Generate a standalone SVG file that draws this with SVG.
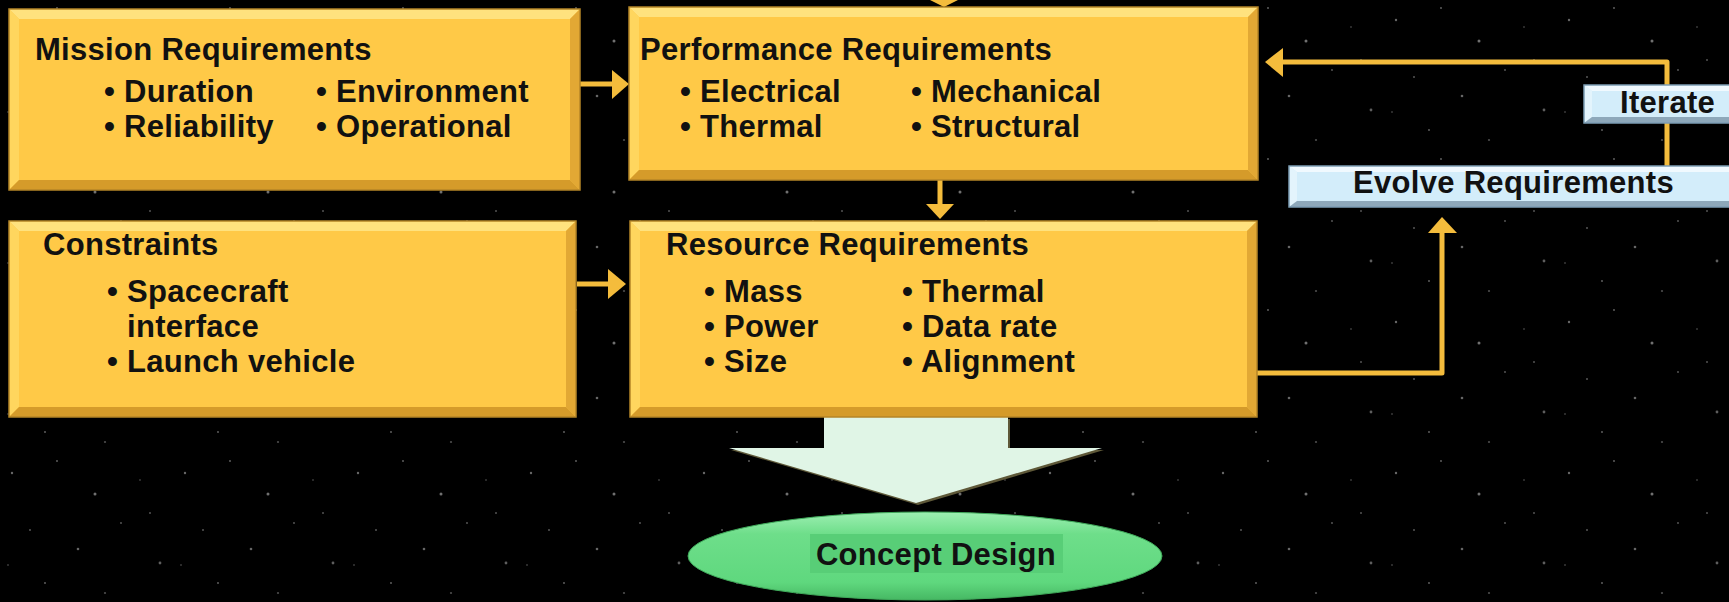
<svg xmlns="http://www.w3.org/2000/svg" width="1729" height="602" viewBox="0 0 1729 602">
<defs>
<style>
.t{font-family:"Liberation Sans",Arial,sans-serif;font-weight:bold;font-size:31px;letter-spacing:0.3px;fill:#111}
.face{fill:#FFC947}
.bt{fill:#FFE27E}
.bl{fill:#FFD65E}
.br{fill:#E2A834}
.bb{fill:#D59B2A}
.edge{fill:none;stroke:#B48527;stroke-width:1.5}
.bface{fill:#D3EDFA}
.bbt{fill:#F0F9FE}
.bbl{fill:#E3F4FC}
.bbr{fill:#A3BDCC}
.bbb{fill:#8EA8BA}
.bedge{fill:none;stroke:#7C9DB4;stroke-width:1.5}
.con{fill:none;stroke:#F4BC3C;stroke-width:5;stroke-linejoin:round}
.head{fill:#F4BC3C}
</style>
<pattern id="stars" width="173" height="151" patternUnits="userSpaceOnUse">
<circle cx="12" cy="20" r="1.2" fill="#aaa" opacity="0.6"/>
<circle cx="57" cy="8" r="0.9" fill="#ccc" opacity="0.5"/>
<circle cx="95" cy="41" r="1.5" fill="#bbb" opacity="0.6"/>
<circle cx="140" cy="27" r="0.8" fill="#999" opacity="0.6"/>
<circle cx="30" cy="77" r="1" fill="#aaa" opacity="0.5"/>
<circle cx="78" cy="96" r="1.3" fill="#ccc" opacity="0.5"/>
<circle cx="121" cy="70" r="0.9" fill="#999" opacity="0.6"/>
<circle cx="160" cy="110" r="1.4" fill="#bbb" opacity="0.5"/>
<circle cx="45" cy="130" r="0.9" fill="#aaa" opacity="0.6"/>
<circle cx="105" cy="140" r="1.1" fill="#999" opacity="0.5"/>
<circle cx="8" cy="112" r="0.8" fill="#bbb" opacity="0.5"/>
<circle cx="150" cy="60" r="1" fill="#888" opacity="0.6"/>
</pattern>
<linearGradient id="ellg" x1="0" y1="0" x2="0" y2="1">
<stop offset="0" stop-color="#9DEFB2"/>
<stop offset="0.25" stop-color="#6EDE8A"/>
<stop offset="0.8" stop-color="#5FD87E"/>
<stop offset="1" stop-color="#46B863"/>
</linearGradient>
</defs>
<rect width="1729" height="602" fill="#000"/>
<rect width="1729" height="602" fill="url(#stars)"/>

<g id="connectors">
<path class="con" d="M580,84 H613"/>
<polygon class="head" points="612,70 629,84 612,99"/>
<path class="con" d="M577,284 H609"/>
<polygon class="head" points="608,269 626,284 608,299"/>
<polygon class="head" points="930,0 958,0 944,7"/>
<path class="con" d="M940,180 V205"/>
<polygon class="head" points="926,204 954,204 940,219"/>
<path class="con" d="M1257,373 H1442 V232"/>
<polygon class="head" points="1428,233 1457,233 1442,217"/>
<path class="con" d="M1667,166 V62 H1282"/>
<polygon class="head" points="1283,48 1265,62 1283,77"/>
<polygon points="826,419 1010,419 1010,450 1104,450 918,505 731,450 826,450" fill="#5E5838"/>
<polygon points="824,417 1008,417 1008,448 1102,448 916,503 729,448 824,448" fill="#E0F5E6"/>
</g>

<g id="mission">
<rect class="face" x="9" y="9" width="571" height="181"/>
<polygon class="bt" points="9,9 580,9 570,19 19,19"/>
<polygon class="bl" points="9,9 19,19 19,180 9,190"/>
<polygon class="br" points="580,9 580,190 570,180 570,19"/>
<polygon class="bb" points="9,190 580,190 570,180 19,180"/>
<rect class="edge" x="9" y="9" width="571" height="181"/>
<text class="t" x="35" y="60">Mission Requirements</text>
<text class="t" x="104" y="102">• Duration</text>
<text class="t" x="104" y="137">• Reliability</text>
<text class="t" x="316" y="102">• Environment</text>
<text class="t" x="316" y="137">• Operational</text>
</g>

<g id="performance">
<rect class="face" x="629" y="7" width="629" height="173"/>
<polygon class="bt" points="629,7 1258,7 1248,17 639,17"/>
<polygon class="bl" points="629,7 639,17 639,170 629,180"/>
<polygon class="br" points="1258,7 1258,180 1248,170 1248,17"/>
<polygon class="bb" points="629,180 1258,180 1248,170 639,170"/>
<rect class="edge" x="629" y="7" width="629" height="173"/>
<text class="t" x="640" y="60">Performance Requirements</text>
<text class="t" x="680" y="102">• Electrical</text>
<text class="t" x="680" y="137">• Thermal</text>
<text class="t" x="911" y="102">• Mechanical</text>
<text class="t" x="911" y="137">• Structural</text>
</g>

<g id="constraints">
<rect class="face" x="9" y="221" width="567" height="196"/>
<polygon class="bt" points="9,221 576,221 566,231 19,231"/>
<polygon class="bl" points="9,221 19,231 19,407 9,417"/>
<polygon class="br" points="576,221 576,417 566,407 566,231"/>
<polygon class="bb" points="9,417 576,417 566,407 19,407"/>
<rect class="edge" x="9" y="221" width="567" height="196"/>
<text class="t" x="43" y="255">Constraints</text>
<text class="t" x="107" y="302">• Spacecraft</text>
<text class="t" x="127" y="337">interface</text>
<text class="t" x="107" y="372">• Launch vehicle</text>
</g>

<g id="resource">
<rect class="face" x="630" y="221" width="627" height="196"/>
<polygon class="bt" points="630,221 1257,221 1247,231 640,231"/>
<polygon class="bl" points="630,221 640,231 640,407 630,417"/>
<polygon class="br" points="1257,221 1257,417 1247,407 1247,231"/>
<polygon class="bb" points="630,417 1257,417 1247,407 640,407"/>
<rect class="edge" x="630" y="221" width="627" height="196"/>
<text class="t" x="666" y="255">Resource Requirements</text>
<text class="t" x="704" y="302">• Mass</text>
<text class="t" x="704" y="337">• Power</text>
<text class="t" x="704" y="372">• Size</text>
<text class="t" x="902" y="302">• Thermal</text>
<text class="t" x="902" y="337">• Data rate</text>
<text class="t" x="902" y="372">• Alignment</text>
</g>

<g id="evolve">
<rect class="bface" x="1289" y="166" width="445" height="41"/>
<polygon class="bbt" points="1289,166 1734,166 1734,172 1297,172"/>
<polygon class="bbl" points="1289,166 1297,172 1297,201 1289,207"/>
<polygon class="bbb" points="1289,207 1734,207 1734,201 1297,201"/>
<rect class="bedge" x="1289" y="166" width="445" height="41"/>
<text class="t" x="1353" y="193">Evolve Requirements</text>
</g>

<g id="iterate">
<rect class="bface" x="1584" y="85" width="150" height="38"/>
<polygon class="bbt" points="1584,85 1734,85 1734,91 1592,91"/>
<polygon class="bbl" points="1584,85 1592,91 1592,117 1584,123"/>
<polygon class="bbb" points="1584,123 1734,123 1734,117 1592,117"/>
<rect class="bedge" x="1584" y="85" width="150" height="38"/>
<text class="t" x="1620" y="113">Iterate</text>
</g>

<g id="concept">
<ellipse cx="925" cy="556" rx="237" ry="44" fill="url(#ellg)" stroke="#3FA95A" stroke-width="1"/>
<rect x="810" y="534" width="253" height="39" fill="#58CE77"/>
<text class="t" x="936" y="565" text-anchor="middle">Concept Design</text>
</g>
</svg>
